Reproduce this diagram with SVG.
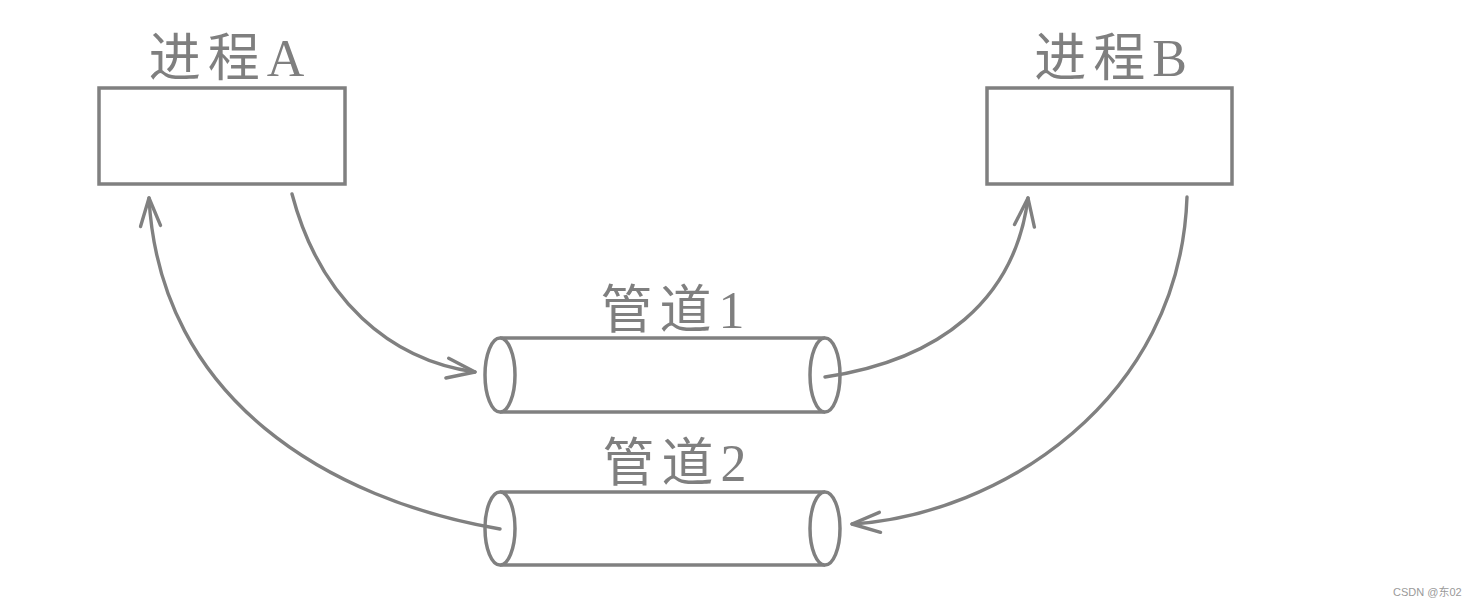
<svg xmlns="http://www.w3.org/2000/svg" width="1472" height="607" viewBox="0 0 1472 607">
<style>
.box{fill:#fff;stroke:#808080;stroke-width:3.5}
.pipe{fill:#fff;stroke:#808080;stroke-width:3.5}
.lbl{font-family:"Liberation Serif","Noto Sans CJK SC",serif;font-size:52px;fill:#7f7f7f;text-anchor:middle;letter-spacing:7px}
.conn{fill:none;stroke:#808080;stroke-width:3.4;stroke-linecap:round}
.wm{font-family:"Liberation Sans","Noto Sans CJK SC",sans-serif;font-size:11px;fill:#9a9a9a}
</style>
<defs>
<marker id="arr" markerUnits="userSpaceOnUse" markerWidth="34" markerHeight="28" viewBox="0 0 34 28" refX="31" refY="14" orient="auto">
<path d="M3,4 L31,14 L3,24" fill="none" stroke="#808080" stroke-width="3.4" stroke-linecap="round" stroke-linejoin="round"/>
</marker>
</defs>
<rect width="1472" height="607" fill="#fff"/>
<g id="procA">
<rect class="box" x="99" y="88" width="246" height="96"/>
<text class="lbl" x="230" y="76">进程A</text>
</g>
<g id="procB">
<rect class="box" x="987" y="88" width="245" height="96"/>
<text class="lbl" x="1114" y="76">进程B</text>
</g>
<g id="pipe1">
<path d="M500,338 L825,338 L825,412 L500,412 Z" fill="#fff"/>
<line class="pipe" x1="500" y1="338" x2="825" y2="338"/>
<line class="pipe" x1="500" y1="412" x2="825" y2="412"/>
<ellipse class="pipe" cx="500" cy="375" rx="15" ry="37"/>
<ellipse class="pipe" cx="825" cy="375" rx="15" ry="37"/>
<text class="lbl" x="676" y="328">管道1</text>
</g>
<g id="pipe2">
<path d="M500,492 L825,492 L825,565 L500,565 Z" fill="#fff"/>
<line class="pipe" x1="500" y1="492" x2="825" y2="492"/>
<line class="pipe" x1="500" y1="565" x2="825" y2="565"/>
<ellipse class="pipe" cx="500" cy="528.5" rx="15" ry="36.5"/>
<ellipse class="pipe" cx="825" cy="528.5" rx="15" ry="36.5"/>
<text class="lbl" x="678" y="481">管道2</text>
</g>
<g id="connectors">
<path class="conn" d="M292,194 C320,300 390,360 475,372" marker-end="url(#arr)"/>
<path class="conn" d="M825,377 C940,360 1015,300 1028,198" marker-end="url(#arr)"/>
<path class="conn" d="M1187,197 C1180,400 1000,515 852,524" marker-end="url(#arr)"/>
<path class="conn" d="M500,529 C330,500 160,400 149,198" marker-end="url(#arr)"/>
</g>
<text class="wm" x="1393" y="596">CSDN @东02</text>
</svg>
